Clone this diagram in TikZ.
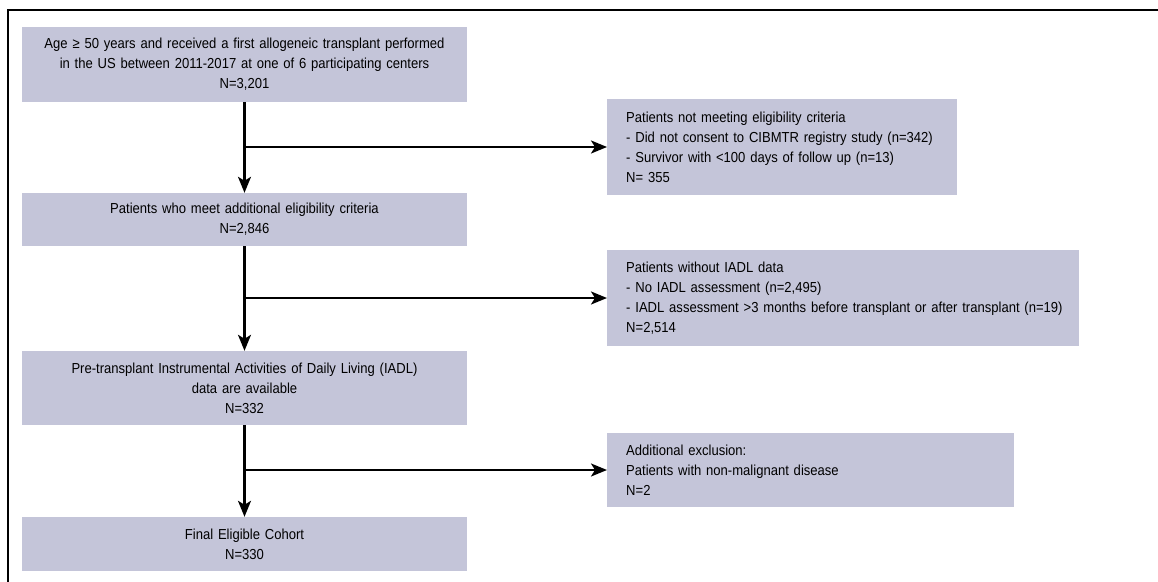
\documentclass[tikz,border=0pt]{standalone}
\usepackage{fontspec}
\setmainfont[FakeStretch=0.9]{Liberation Sans}
\usetikzlibrary{arrows.meta}
\definecolor{boxfill}{RGB}{196,197,217}
\tikzset{
  cbox/.style={fill=boxfill, draw=none, inner sep=0pt, align=center, font=\fontsize{14.5}{20}\selectfont},
  lbox/.style={fill=boxfill, draw=none, inner xsep=19pt, inner ysep=0pt, align=left, font=\fontsize{14.5}{20}\selectfont},
  flow/.style={line width=2.2pt, -{Stealth[length=16pt,width=13pt,inset=4pt]}},
}
\begin{document}
\begin{tikzpicture}[x=1pt,y=-1pt]
\useasboundingbox (0,0) rectangle (1158,581);
\clip (0,0) rectangle (1158,581);
\draw[line width=2.6pt] (8,10) rectangle (1180,600);

\node[cbox, minimum width=445pt, text width=445pt, minimum height=75pt] (b1) at (244.5,64.5)
 {Age ≥ 50 years and received a first allogeneic transplant performed\\in the US between 2011-2017 at one of 6 participating centers\\N=3,201};
\node[cbox, minimum width=445pt, text width=445pt, minimum height=53pt] (b2) at (244.5,219.5)
 {Patients who meet additional eligibility criteria\\N=2,846};
\node[cbox, minimum width=445pt, text width=445pt, minimum height=74pt] (b3) at (244.5,388)
 {Pre-transplant Instrumental Activities of Daily Living (IADL)\\data are available\\N=332};
\node[cbox, minimum width=445pt, text width=445pt, minimum height=54pt] (b4) at (244.5,544)
 {Final Eligible Cohort\\N=330};

\node[lbox, anchor=west, text width=312pt, minimum height=96pt] (r1) at (607,147)
 {Patients not meeting eligibility criteria\\- Did not consent to CIBMTR registry study (n=342)\\- Survivor with <100 days of follow up (n=13)\\N= 355};
\node[lbox, anchor=west, text width=434pt, minimum height=96pt] (r2) at (607,298)
 {Patients without IADL data\\- No IADL assessment (n=2,495)\\\mbox{- IADL assessment >3 months before transplant or after transplant (n=19)}\\N=2,514};
\node[lbox, anchor=west, text width=369pt, minimum height=74pt] (r3) at (607,470)
 {Additional exclusion:\\Patients with non-malignant disease\\N=2};

\coordinate (j1) at (b1.south |- r1.west);
\coordinate (j2) at (b2.south |- r2.west);
\coordinate (j3) at (b3.south |- r3.west);

\draw[flow] (b1.south) -- (b2.north);
\draw[flow] (j1) -- (r1.west);
\draw[flow] (b2.south) -- (b3.north);
\draw[flow] (j2) -- (r2.west);
\draw[flow] (b3.south) -- (b4.north);
\draw[flow] (j3) -- (r3.west);
\end{tikzpicture}
\end{document}
